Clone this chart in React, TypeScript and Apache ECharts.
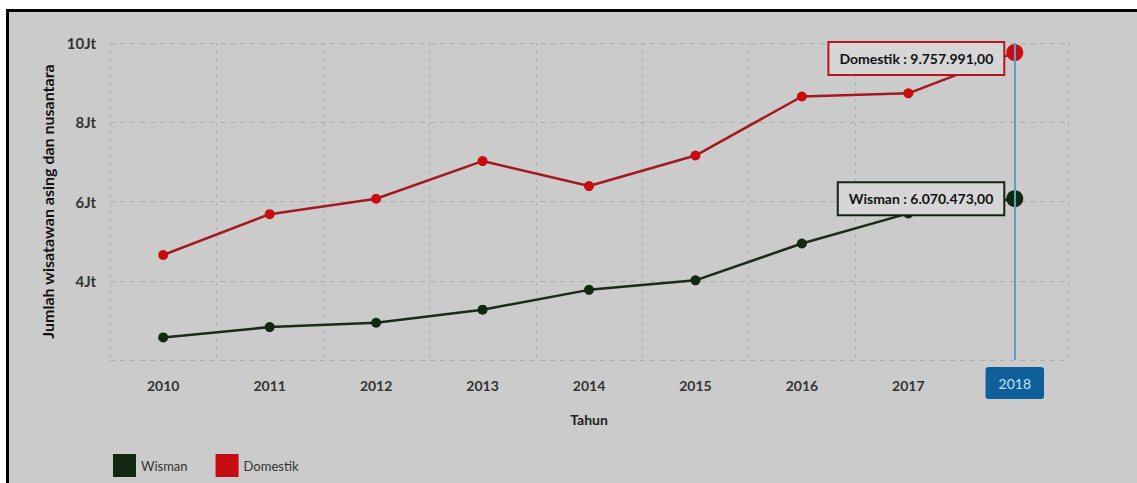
import React, { useEffect, useRef } from 'react';
import * as echarts from 'echarts';

const years = ['2010', '2011', '2012', '2013', '2014', '2015', '2016', '2017', '2018'];
const wisman = [2570000, 2830000, 2940000, 3270000, 3770000, 4010000, 4940000, 5700000, 6070473];
const domestik = [4650000, 5680000, 6070000, 7020000, 6390000, 7160000, 8650000, 8730000, 9757991];
const yTicks = { min: 2000000, max: 10000000, interval: 2000000 };

const fmt = (v: number) =>
  v.toLocaleString('de-DE', { minimumFractionDigits: 2, maximumFractionDigits: 2 });

const FONT = 'Lato';

export default function App() {
  const ref = useRef<HTMLDivElement>(null);
  useEffect(() => {
    if (!ref.current) return;
    const chart = echarts.init(ref.current, undefined, { renderer: 'svg' });
    const last = years.length - 1;
    const mk = (arr: number[], name: string, border: string, off: number[]) =>
      arr.map((v, i) =>
        i === last
          ? {
              value: v,
              symbolSize: 17,
              label: {
                show: true,
                position: 'left',
                distance: 3,
                offset: off,
                formatter: `${name} : ${fmt(v)}`,
                backgroundColor: '#d6d6d6',
                borderColor: border,
                borderWidth: 2,
                padding: [9, 10, 8, 10],
                color: '#111',
                fontFamily: FONT,
                fontWeight: 'bold',
                fontSize: 14,
              },
            }
          : v
      );
    chart.setOption({
      animation: false,
      textStyle: { fontFamily: FONT },
      grid: { left: 110, right: 69, top: 43, bottom: 123 },
      legend: {
        left: 108,
        top: 449,
        icon: 'rect',
        itemWidth: 23,
        itemHeight: 23,
        itemGap: 28,
        textStyle: { fontFamily: FONT, fontSize: 13, color: '#333' },
        data: ['Wisman', 'Domestik'],
      },
      xAxis: {
        type: 'category',
        data: years,
        boundaryGap: true,
        name: 'Tahun',
        nameLocation: 'middle',
        nameGap: 52,
        nameTextStyle: { fontFamily: FONT, fontWeight: 'bold', fontSize: 14, color: '#222' },
        axisLine: { show: false },
        axisTick: { show: false },
        axisLabel: {
          margin: 18,
          fontFamily: FONT,
          fontSize: 14,
          color: '#333',
          fontWeight: 'bold',
          interval: (index: number) => index !== last,
        },
        splitLine: { show: true, lineStyle: { color: '#aeaeae', type: [3, 5], width: 1 } },
        axisPointer: {
          show: true,
          value: '2018',
          status: 'show',
          type: 'line',
          triggerTooltip: false,
          lineStyle: { color: '#5d9dc9', width: 2, type: 'solid' },
          label: {
            show: true,
            backgroundColor: '#0f609a',
            color: '#c4e0f3',
            fontFamily: FONT,
            fontSize: 14,
            padding: [9, 13, 9, 13],
            margin: 7,
          },
        },
      },
      yAxis: {
        type: 'value',
        min: yTicks.min,
        max: yTicks.max,
        interval: yTicks.interval,
        name: 'Jumlah wisatawan asing dan nusantara',
        nameLocation: 'middle',
        nameGap: 55,
        nameTextStyle: { fontFamily: FONT, fontWeight: 'bold', fontSize: 16, color: '#111' },
        axisLine: { show: false },
        axisTick: { show: false },
        axisLabel: {
          showMinLabel: false,
          margin: 14,
          fontFamily: FONT,
          fontSize: 15,
          fontWeight: 'bold',
          color: '#333',
          formatter: (v: number) => `${v / 1000000}Jt`,
        },
        splitLine: { show: true, lineStyle: { color: '#aeaeae', type: [5, 5], width: 1 } },
      },
      series: [
        {
          name: 'Wisman',
          type: 'line',
          data: mk(wisman, 'Wisman', '#142414', [0, 0]),
          symbol: 'circle',
          symbolSize: 10,
          itemStyle: { color: '#112811' },
          lineStyle: { color: '#1d2a1a', width: 2.5 },
          emphasis: { disabled: true },
          z: 3,
        },
        {
          name: 'Domestik',
          type: 'line',
          data: mk(domestik, 'Domestik', '#b8161c', [0, 6]),
          symbol: 'circle',
          symbolSize: 10,
          itemStyle: { color: '#c80d10' },
          lineStyle: { color: '#a3191e', width: 2.5 },
          emphasis: { disabled: true },
          z: 3,
        },
      ],
    });
    return () => chart.dispose();
  }, []);

  return (
    <div style={{ position: 'fixed', left: 0, top: 0, width: 1137, height: 483, background: '#fff' }}>
      <div
        style={{
          position: 'absolute',
          left: 6,
          top: 9,
          right: 0,
          bottom: 0,
          borderTop: '3px solid #000',
          borderLeft: '3px solid #000',
          background: '#cbcbcb',
        }}
      />
      <div ref={ref} style={{ position: 'absolute', left: 0, top: 0, width: 1137, height: 483 }} />
    </div>
  );
}
